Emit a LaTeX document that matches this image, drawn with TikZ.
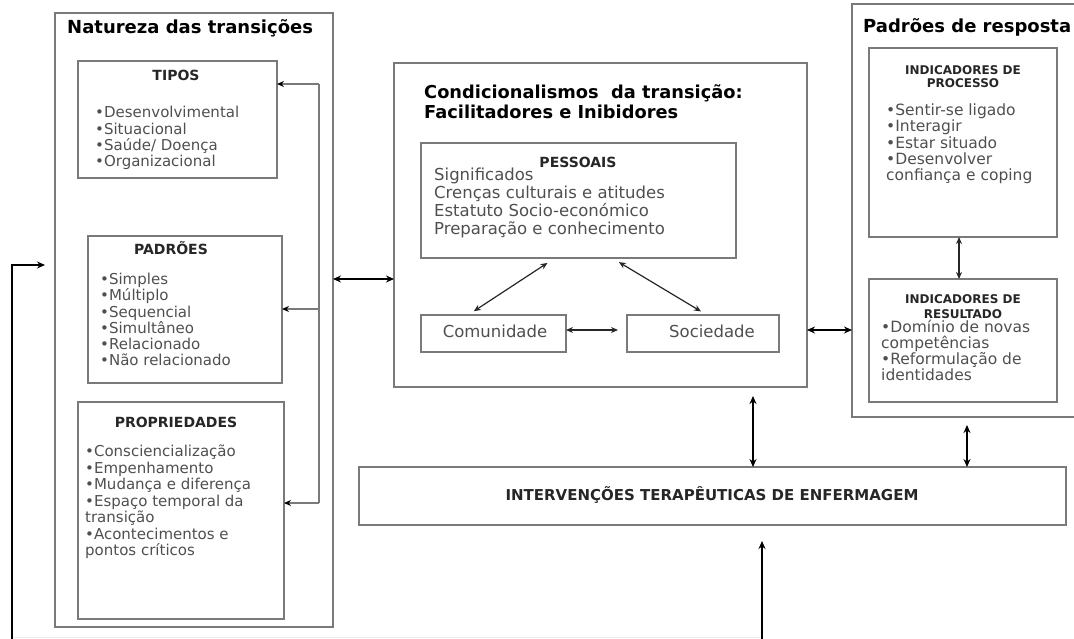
\documentclass[tikz,border=0pt]{standalone}
\usepackage{fontspec}
\setmainfont{DejaVu Sans}
\usetikzlibrary{arrows.meta,calc}
\definecolor{boxgray}{HTML}{7A7A7A}
\definecolor{txtgray}{HTML}{4F4F4F}
\definecolor{headgray}{HTML}{262626}
\newcommand\fz[2]{\fontsize{#1}{#2}\selectfont}
\begin{document}
\begin{tikzpicture}[x=1pt,y=-1pt,
  box/.style={draw=boxgray, line width=1.8pt, inner sep=0pt, outer sep=0pt, anchor=north west},
  ttl/.style={font=\fz{18}{20}\bfseries, text=black, inner sep=0pt, anchor=base west},
  hd/.style={font=\fz{14}{16}\bfseries, text=headgray, inner sep=0pt, anchor=base},
  lst/.style={font=\fz{15}{17}, text=txtgray, inner sep=0pt, anchor=mid west},
  tarr/.style={line width=2.8pt, black, {Stealth[length=8pt,width=7pt]}-{Stealth[length=8pt,width=7pt]}},
  marr/.style={line width=1.2pt, black!85, {Stealth[length=7pt,width=6pt]}-{Stealth[length=7pt,width=6pt]}},
  gline/.style={line width=1.5pt, boxgray},
  garr/.style={line width=1.5pt, boxgray, -{Stealth[length=7pt,width=6pt,fill=black,color=black]}}
]
\useasboundingbox (0,0) rectangle (1074,638);

% ---------- boxes ----------
\node[box, minimum width=278pt, minimum height=614pt] (natureza) at (55,13) {};
\node[box, minimum width=199pt, minimum height=117pt] (tipos) at (78,61) {};
\node[box, minimum width=194pt, minimum height=147pt] (padroes) at (88,236) {};
\node[box, minimum width=206pt, minimum height=217pt] (props) at (78,402) {};
\node[box, minimum width=413pt, minimum height=324pt] (center) at (394,63) {};
\node[box, minimum width=315pt, minimum height=115pt] (pessoais) at (421,143) {};
\node[box, minimum width=145pt, minimum height=37pt] (comun) at (421,315) {};
\node[box, minimum width=152pt, minimum height=37pt] (socied) at (627,315) {};
\node[box, minimum width=238pt, minimum height=413pt] (resposta) at (852,4) {};
\node[box, minimum width=188pt, minimum height=189pt] (proc) at (869,48) {};
\node[box, minimum width=188pt, minimum height=123pt] (result) at (869,279) {};
\node[box, minimum width=707pt, minimum height=58pt] (interv) at (359,467) {};

% ---------- titles ----------
\node[ttl] (tnat) at (67,33) {Natureza das transições};
\node[ttl] (tpad) at (863,32) {Padrões de resposta};
\node[ttl, font=\fz{17.8}{20}\bfseries] (tcond1) at (424,98) {Condicionalismos\ \ da transição:};
\node[ttl, font=\fz{17.8}{20}\bfseries] (tcond2) at (424,118) {Facilitadores e Inibidores};

% ---------- headings ----------
\node[hd] (htipos) at (176,80) {TIPOS};
\node[hd] (hpad) at (171,254) {PADRÕES};
\node[hd] (hprop) at (176,427) {PROPRIEDADES};
\node[hd] (hpess) at (578,167) {PESSOAIS};
\node[hd, font=\fz{12}{14}\bfseries] (hproca) at (963,74) {INDICADORES DE};
\node[hd, font=\fz{12}{14}\bfseries] (hprocb) at (963,87) {PROCESSO};
\node[hd, font=\fz{12}{14}\bfseries] (hresa) at (963,303) {INDICADORES DE};
\node[hd, font=\fz{12}{14}\bfseries] (hresb) at (963,318) {RESULTADO};
\node[hd, font=\fz{15}{17}\bfseries] (hint) at (712,500) {INTERVENÇÕES TERAPÊUTICAS DE ENFERMAGEM};

% ---------- lists ----------
\foreach \t [count=\i] in {•Desenvolvimental,•Situacional,•Saúde/ Doença,•Organizacional}
  \node[lst] (tip\i) at (95,{115+(\i-1)*16.3}) {\t};
\foreach \t [count=\i] in {•Simples,•Múltiplo,•Sequencial,•Simultâneo,•Relacionado,•Não relacionado}
  \node[lst] (pad\i) at (100,{282+(\i-1)*16.2}) {\t};
\foreach \t [count=\i] in {•Consciencialização,•Empenhamento,•Mudança e diferença,•Espaço temporal da,transição,•Acontecimentos e,pontos críticos}
  \node[lst] (prop\i) at (85,{454+(\i-1)*16.5}) {\t};
\foreach \t [count=\i] in {Significados,Crenças culturais e atitudes,Estatuto Socio-económico,Preparação e conhecimento}
  \node[lst, font=\fz{16.5}{18}] (pes\i) at (434,{178+(\i-1)*18}) {\t};
\node[lst, font=\fz{16.5}{18}, anchor=mid] (tcom) at (495,335) {Comunidade};
\node[lst, font=\fz{16.5}{18}, anchor=mid] (tsoc) at (712,335) {Sociedade};
\foreach \t [count=\i] in {•Sentir-se ligado,•Interagir,•Estar situado,•Desenvolver,confiança e coping}
  \node[lst, font=\fz{15.5}{17}] (pro\i) at (886,{113+(\i-1)*16.2}) {\t};
\foreach \t [count=\i] in {•Domínio de novas,competências,•Reformulação de,identidades}
  \node[lst, font=\fz{15.5}{17}] (res\i) at (881,{330+(\i-1)*16}) {\t};

% ---------- connectors ----------
\coordinate (fbtop) at (319,84);
\coordinate (fbbot) at (319,503);
\draw[gline] (fbbot) -- (fbtop);
\draw[garr] (fbtop) -- (tipos.east |- fbtop);
\draw[garr] (fbtop |- 0,309) -- (padroes.east |- 0,309);
\draw[garr] (fbbot) -- (props.east |- fbbot);

\draw[tarr] (natureza.east |- 0,279) -- (center.west |- 0,279);
\draw[tarr] (center.east |- 0,330) -- (resposta.west |- 0,330);

\draw[marr, shorten >=9pt] (comun.east |- 0,330) -- (socied.west |- 0,330);
\draw[marr, shorten <=9pt, shorten >=7pt] ($(pessoais.south west)+(134,0)$) -- ($(comun.north west)+(47,0)$);
\draw[marr, shorten <=8pt, shorten >=7pt] ($(pessoais.south west)+(191,0)$) -- ($(socied.north west)+(80,0)$);
\draw[marr] ($(proc.south west)+(90,0)$) -- ($(result.north west)+(90,0)$);

\draw[tarr, shorten <=9pt] ($(center.south west)+(359,0)$) -- ($(interv.north west)+(394,0)$);
\draw[tarr, shorten <=8pt] ($(resposta.south west)+(115,0)$) -- ($(interv.north west)+(608,0)$);

\coordinate (botr) at (762,640);
\coordinate (botl) at (12,640);
\draw[black!8, line width=0.8pt] (12,637) -- (762,637);
\draw[line width=2.8pt, -{Stealth[length=8pt,width=7pt]}, shorten >=16pt] (botr) -- ($(interv.south west)+(403,0)$);
\draw[line width=2.8pt, -{Stealth[length=8pt,width=7pt]}, shorten >=10pt] (botl) |- (natureza.west |- 0,265);
\end{tikzpicture}
\end{document}
